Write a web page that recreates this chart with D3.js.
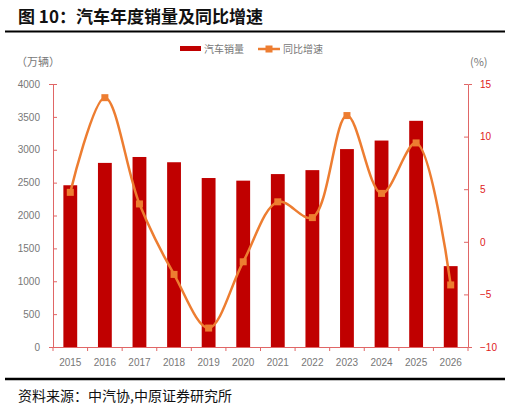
<!DOCTYPE html>
<html><head><meta charset="utf-8">
<script src="https://cdn.jsdelivr.net/npm/d3@7"></script>
<style>body{margin:0;background:#fff}svg{display:block;font-family:"Noto Sans CJK SC","Noto Sans",sans-serif}</style>
</head><body><svg id="c" width="510" height="409"></svg>
<script>
const years = ["2015","2016","2017","2018","2019","2020","2021","2022","2023","2024","2025","2026"];
const sales = [2460, 2800, 2890, 2810, 2570, 2530, 2630, 2690, 3010, 3140, 3440, 1230];
const growth = [4.7, 13.7, 3.6, -3.1, -8.2, -1.9, 3.8, 2.3, 12.0, 4.6, 9.4, -4.1];
const leftTicks = [0,500,1000,1500,2000,2500,3000,3500,4000];
const rightTicks = [-10,-5,0,5,10,15];

const svg = d3.select("#c");
const m = {left: 53, right: 468, top: 84, bottom: 347};
const red = "#c00000", orange = "#ed7d31", axisRed = "#e06666";

// title
svg.append("text").attr("x", 18).attr("y", 23).attr("font-size", 17).attr("font-weight", "bold")
  .attr("fill", "#111").text("图 10：汽车年度销量及同比增速");
svg.append("line").attr("x1", 5).attr("x2", 505).attr("y1", 31.5).attr("y2", 31.5).attr("stroke", "#000").attr("stroke-width", 2);
svg.append("line").attr("x1", 5).attr("x2", 505).attr("y1", 379).attr("y2", 379).attr("stroke", "#000").attr("stroke-width", 2.5);
svg.append("text").attr("x", 18).attr("y", 401).attr("font-size", 14).attr("fill", "#111").text("资料来源：中汽协,中原证券研究所");

const x = d3.scaleBand().domain(years).range([m.left, m.right]);
const yL = d3.scaleLinear().domain([0, 4000]).range([m.bottom, m.top]);
const yR = d3.scaleLinear().domain([-10, 15]).range([m.bottom, m.top]);

// bars
svg.append("g").selectAll("rect").data(sales).join("rect")
  .attr("x", (d, i) => x(years[i]) + x.bandwidth() * 0.3)
  .attr("width", x.bandwidth() * 0.4)
  .attr("y", d => yL(d)).attr("height", d => m.bottom - yL(d))
  .attr("fill", red);

// axes
const gl = svg.append("g").attr("transform", `translate(${m.left},0)`)
  .call(d3.axisLeft(yL).tickValues(leftTicks).tickFormat(d3.format("d")).tickSize(4).tickSizeOuter(4));
gl.selectAll("path,line").attr("stroke", axisRed);
gl.selectAll("text").attr("fill", "#777").attr("font-size", 10).attr("x", -13);
gl.selectAll("line").attr("x2", 4);

const gr = svg.append("g").attr("transform", `translate(${m.right},0)`)
  .call(d3.axisRight(yR).tickValues(rightTicks).tickSize(4).tickSizeOuter(4));
gr.selectAll("path,line").attr("stroke", axisRed);
gr.selectAll("line").attr("x2", -4);
gr.selectAll("text").attr("fill", "#e02020").attr("font-size", 10).attr("x", 12);

const gb = svg.append("g").attr("transform", `translate(0,${m.bottom})`)
  .call(d3.axisBottom(x).tickSize(0).tickPadding(12));
gb.select("path").attr("stroke", axisRed);
gb.selectAll("text").attr("fill", "#777").attr("font-size", 10);
svg.append("g").selectAll("line").data(d3.range(years.length + 1)).join("line")
  .attr("x1", i => m.left + i * x.step()).attr("x2", i => m.left + i * x.step())
  .attr("y1", m.bottom).attr("y2", m.bottom + 4).attr("stroke", axisRed);

// growth line
const cx = (d, i) => x(years[i]) + x.bandwidth() / 2;
svg.append("path").datum(growth)
  .attr("d", d3.line().x(cx).y(d => yR(d)).curve(d3.curveCatmullRom.alpha(0.5)))
  .attr("fill", "none").attr("stroke", orange).attr("stroke-width", 2.5);
svg.append("g").selectAll("rect").data(growth).join("rect")
  .attr("x", (d, i) => cx(d, i) - 3.5).attr("y", d => yR(d) - 3.5)
  .attr("width", 7).attr("height", 7).attr("fill", orange);

// unit labels
svg.append("text").attr("x", 16).attr("y", 66).attr("font-size", 11).attr("fill", "#777").text("（万辆）");
svg.append("text").attr("x", 470).attr("y", 66).attr("font-size", 11).attr("fill", "#777").text("(%)");

// legend
const lg = svg.append("g").attr("font-size", 10).attr("fill", "#777");
lg.append("rect").attr("x", 180).attr("y", 46).attr("width", 21).attr("height", 5).attr("fill", red);
lg.append("text").attr("x", 204).attr("y", 53).text("汽车销量");
lg.append("line").attr("x1", 258).attr("x2", 280).attr("y1", 49).attr("y2", 49).attr("stroke", orange).attr("stroke-width", 2.5);
lg.append("rect").attr("x", 265.5).attr("y", 45.5).attr("width", 7).attr("height", 7).attr("fill", orange);
lg.append("text").attr("x", 283).attr("y", 53).text("同比增速");
</script></body></html>
